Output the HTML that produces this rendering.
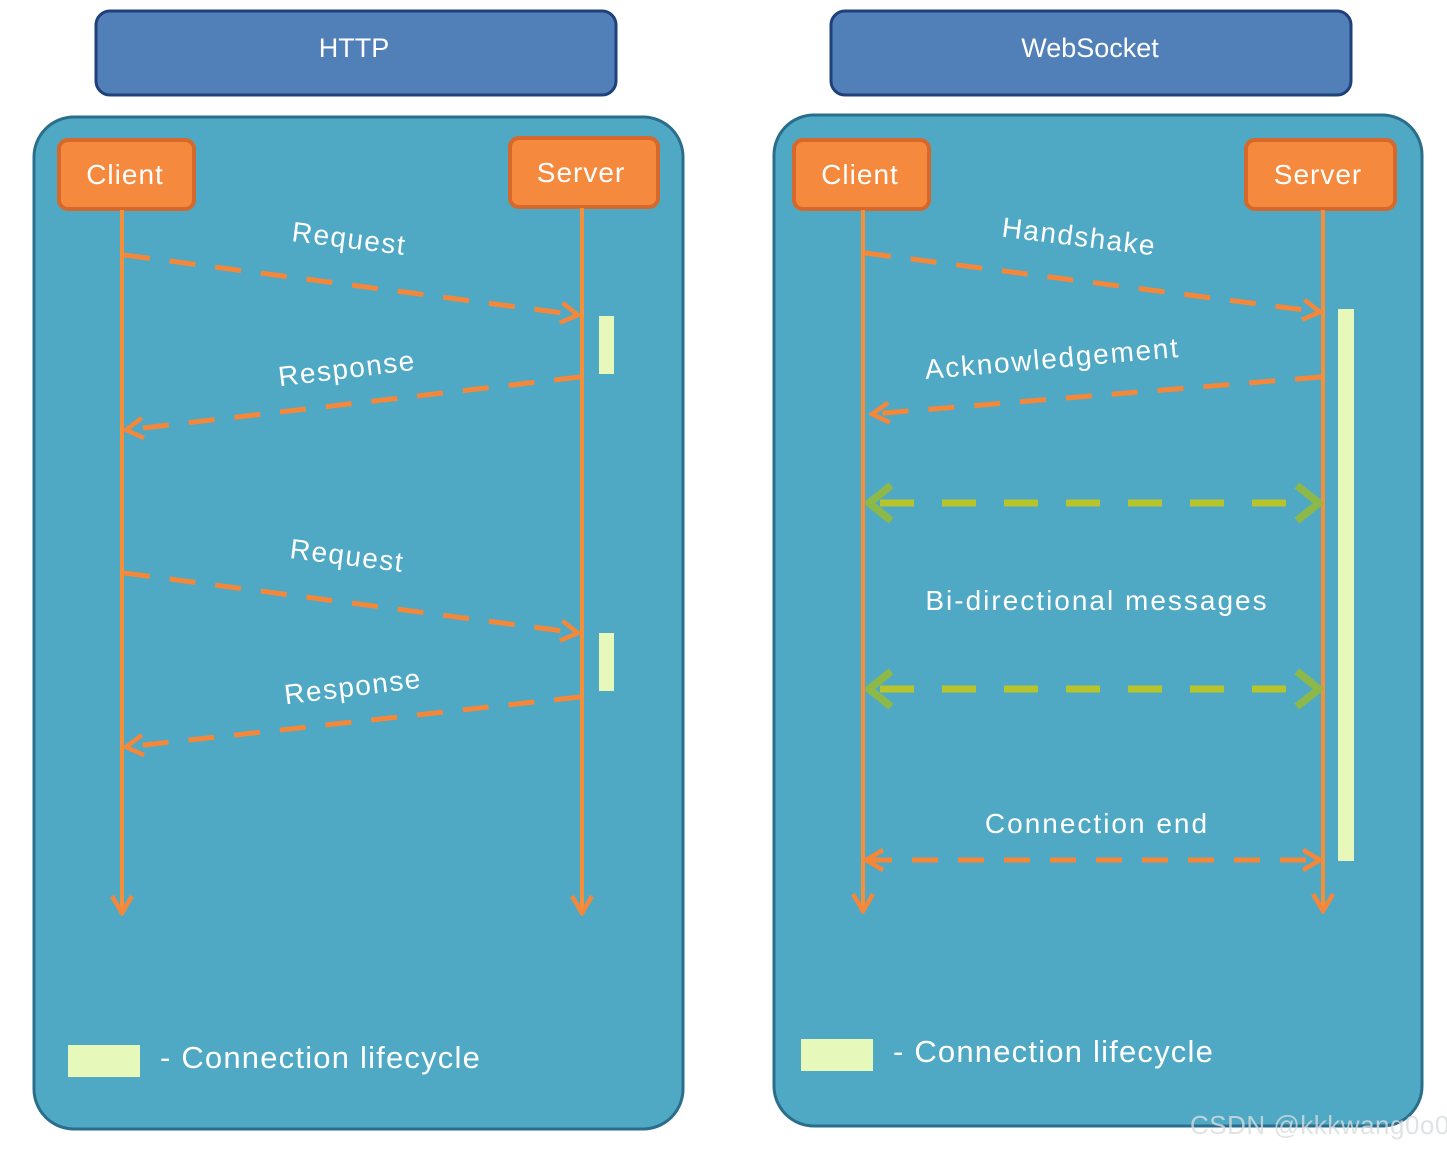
<!DOCTYPE html>
<html><head><meta charset="utf-8"><style>
html,body{margin:0;padding:0;background:#fff;width:1447px;height:1151px;overflow:hidden}
svg text{font-family:"Liberation Sans","DejaVu Sans",sans-serif;fill:#fff}
</style></head><body>
<svg width="1447" height="1151" viewBox="0 0 1447 1151" xmlns="http://www.w3.org/2000/svg">
<defs>
<marker id="oa" viewBox="0 0 24 24" refX="21" refY="12" markerWidth="24" markerHeight="24" markerUnits="userSpaceOnUse" orient="auto-start-reverse">
<path d="M4,2 L21,12 L4,22" fill="none" stroke="#f5873a" stroke-width="4.5"/></marker>
<marker id="ga" viewBox="0 0 30 40" refX="28" refY="20" markerWidth="34" markerHeight="44" markerUnits="userSpaceOnUse" orient="auto-start-reverse">
<path d="M7,4 L27,20 L7,36" fill="none" stroke="#8db84a" stroke-width="7"/></marker>
</defs>
<rect x="96" y="11" width="520" height="84" rx="14" fill="#5180b8" stroke="#20407a" stroke-width="3"/>
<text x="354" y="57" font-size="27" text-anchor="middle">HTTP</text>
<rect x="831" y="11" width="520" height="84" rx="14" fill="#5180b8" stroke="#20407a" stroke-width="3"/>
<text x="1090" y="57" font-size="27" text-anchor="middle">WebSocket</text>
<rect x="34" y="117" width="649" height="1012" rx="40" fill="#4fa9c4" stroke="#2b6e8c" stroke-width="3"/>
<rect x="774" y="115" width="648" height="1011" rx="40" fill="#4fa9c4" stroke="#2b6e8c" stroke-width="3"/>
<g stroke="#d5682a" stroke-width="4" fill="#f58a3e">
<rect x="59" y="140" width="135" height="69" rx="9"/>
<rect x="510" y="138" width="148" height="69" rx="9"/>
<rect x="794" y="140" width="135" height="69" rx="9"/>
<rect x="1246" y="140" width="149" height="69" rx="9"/>
</g>
<g font-size="28" text-anchor="middle" letter-spacing="1">
<text x="125" y="184">Client</text>
<text x="581" y="182">Server</text>
<text x="860" y="184">Client</text>
<text x="1318" y="184">Server</text>
</g>
<g fill="#e6f8ba">
<rect x="599" y="316" width="15" height="58"/>
<rect x="599" y="633" width="15" height="58"/>
<rect x="1338" y="309" width="16" height="552"/>
<rect x="68" y="1045" width="72" height="32"/>
<rect x="801" y="1039" width="72" height="32"/>
</g>
<g stroke="#f5903a" stroke-width="4" fill="none" marker-end="url(#oa)">
<line x1="122" y1="210" x2="122" y2="913"/>
<line x1="582" y1="208" x2="582" y2="913"/>
<line x1="863" y1="210" x2="863" y2="911"/>
<line x1="1323" y1="210" x2="1323" y2="911"/>
</g>
<g stroke="#f5873a" stroke-width="5" fill="none" stroke-dasharray="26,20" marker-end="url(#oa)">
<line x1="124" y1="255" x2="578" y2="315"/>
<line x1="580" y1="377" x2="126" y2="430"/>
<line x1="124" y1="573" x2="578" y2="633"/>
<line x1="580" y1="697" x2="126" y2="747"/>
<line x1="865" y1="253" x2="1320" y2="312"/>
<line x1="1321" y1="377" x2="872" y2="414"/>
<line x1="866" y1="860" x2="1320" y2="860" marker-start="url(#oa)"/>
</g>
<g stroke="#b8c42c" stroke-width="7" fill="none" stroke-dasharray="34,28" stroke-dashoffset="-12" marker-end="url(#ga)" marker-start="url(#ga)">
<line x1="868" y1="503" x2="1320" y2="503"/>
<line x1="868" y1="689" x2="1320" y2="689"/>
</g>
<g font-size="28" text-anchor="middle" letter-spacing="1.5">
<text transform="translate(348,248) rotate(7)">Request</text>
<text transform="translate(348,378) rotate(-7)">Response</text>
<text transform="translate(346,565) rotate(7)">Request</text>
<text transform="translate(354,696) rotate(-7)">Response</text>
<text transform="translate(1078,246) rotate(7)">Handshake</text>
<text transform="translate(1053,368) rotate(-5)" letter-spacing="1.8">Acknowledgement</text>
<text x="1097" y="610" letter-spacing="2">Bi-directional messages</text>
<text x="1097" y="833" letter-spacing="2">Connection end</text>
</g>
<g font-size="31" letter-spacing="1.2">
<text x="160" y="1068">- Connection lifecycle</text>
<text x="893" y="1062">- Connection lifecycle</text>
</g>
<text x="1190" y="1134" font-size="26" letter-spacing="0.5" style="fill:#d8dde0;opacity:0.8">CSDN @kkkwang0o0</text>
</svg>
</body></html>
